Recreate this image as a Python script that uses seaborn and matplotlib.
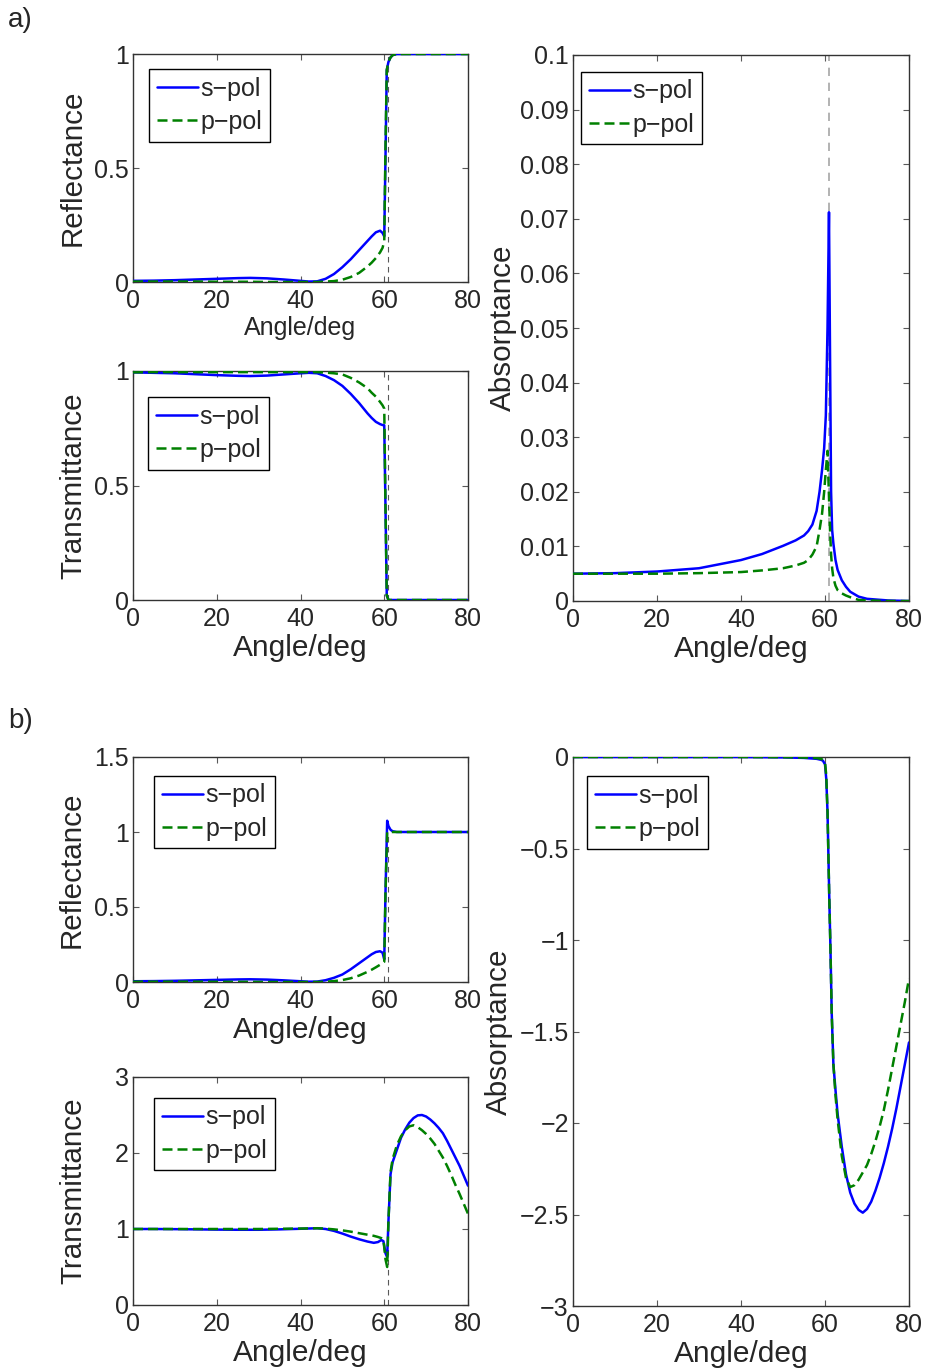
import matplotlib
matplotlib.use("Agg")
from matplotlib import pyplot as plt
from matplotlib.ticker import FuncFormatter
import seaborn as sns

# ---- panel a) ----
ang_a = [0, 5, 10, 15, 20, 25, 28, 32, 36, 40, 42, 44, 46, 48, 50, 52, 54, 56, 57, 58,
         59, 59.6, 60.0, 60.3, 60.6, 61.0, 61.5, 62, 63, 65, 70, 75, 80]
refl_a_s = [0.005, 0.006, 0.008, 0.011, 0.014, 0.017, 0.018, 0.016, 0.011, 0.005, 0.002, 0.003,
            0.014, 0.035, 0.065, 0.1, 0.14, 0.18, 0.2, 0.218, 0.225, 0.215, 0.2, 0.55, 0.93,
            0.965, 0.985, 0.995, 1.0, 1.0, 1.0, 1.0, 1.0]
refl_a_p = [0.002, 0.002, 0.002, 0.002, 0.001, 0.001, 0.001, 0.0, 0.0, 0.0, 0.0, 0.0,
            0.002, 0.004, 0.01, 0.022, 0.04, 0.068, 0.085, 0.105, 0.13, 0.15, 0.18, 0.6, 0.93,
            0.965, 0.985, 0.995, 1.0, 1.0, 1.0, 1.0, 1.0]
trans_a_s = [0.994, 0.992, 0.99, 0.986, 0.982, 0.979, 0.978, 0.98, 0.985, 0.99, 0.992, 0.99,
             0.978, 0.96, 0.935, 0.9, 0.86, 0.815, 0.795, 0.778, 0.768, 0.764, 0.763, 0.4, 0.02,
             0.0, 0.0, 0.0, 0.0, 0.0, 0.0, 0.0, 0.0]
trans_a_p = [0.994, 0.995, 0.995, 0.995, 0.995, 0.995, 0.995, 0.995, 0.995, 0.995, 0.995, 0.995,
             0.993, 0.99, 0.985, 0.97, 0.95, 0.925, 0.905, 0.888, 0.865, 0.85, 0.836, 0.4, 0.02,
             0.0, 0.0, 0.0, 0.0, 0.0, 0.0, 0.0, 0.0]

ang_a_abs = [0, 10, 20, 30, 40, 45, 50, 53, 55, 56, 57, 58, 58.7, 59.3, 59.8, 60.2, 60.6, 60.95,
             61.2, 61.45, 61.7, 62.0, 62.5, 63, 64, 65, 66, 68, 70, 75, 80]
abs_a_s = [0.0050, 0.0051, 0.0054, 0.0060, 0.0075, 0.0086, 0.0101, 0.0111, 0.0120, 0.0128,
           0.0140, 0.0165, 0.020, 0.024, 0.028, 0.034, 0.050, 0.0712, 0.045, 0.020, 0.013,
           0.0105, 0.0075, 0.0057, 0.0038, 0.0026, 0.0017, 0.0008, 0.0004, 0.0001, 0.0]
abs_a_p = [0.0050, 0.0050, 0.0050, 0.0051, 0.0053, 0.0056, 0.0060, 0.0065, 0.0070, 0.0075,
           0.0085, 0.0100, 0.013, 0.016, 0.020, 0.024, 0.0275, 0.019, 0.013, 0.0085, 0.006,
           0.0042, 0.0028, 0.0020, 0.0014, 0.0010, 0.0007, 0.0002, 0.0001, 0.0, 0.0]

# ---- panel b) ----
ang_b = [0, 5, 10, 15, 20, 25, 28, 32, 36, 40, 42, 44, 46, 48, 50, 52, 54, 56, 57, 58,
         59, 59.6, 60.0, 60.3, 60.7, 61.0, 61.5, 62, 63, 65, 70, 75, 80]
refl_b_s = [0.005, 0.006, 0.008, 0.011, 0.014, 0.017, 0.018, 0.016, 0.011, 0.005, 0.002, 0.003,
            0.012, 0.028, 0.05, 0.085, 0.125, 0.165, 0.185, 0.2, 0.205, 0.195, 0.15, 0.6, 1.075,
            1.04, 1.015, 1.005, 1.0, 1.0, 1.0, 1.0, 1.0]
refl_b_p = [0.002, 0.002, 0.002, 0.002, 0.001, 0.001, 0.001, 0.0, 0.0, 0.0, 0.0, 0.0,
            0.002, 0.006, 0.013, 0.025, 0.043, 0.068, 0.082, 0.098, 0.115, 0.126, 0.135, 0.6, 1.0,
            1.0, 1.0, 1.0, 1.0, 1.0, 1.0, 1.0, 1.0]

ang_b_trans = [0, 5, 10, 15, 20, 25, 30, 35, 40, 44, 46, 48, 50, 52, 54, 56, 57.5, 58.5, 59.3,
               59.8, 60.3, 60.7, 61.0, 61.5, 62, 63, 64, 65, 66, 67, 68, 69, 70, 71, 72, 73,
               74, 75, 76, 77, 78, 79, 80]
trans_b_s = [1.0, 1.0, 0.998, 0.995, 0.992, 0.99, 0.99, 0.995, 1.003, 1.01, 1.0, 0.975, 0.94,
             0.9, 0.865, 0.835, 0.818, 0.828, 0.855, 0.84, 0.68, 0.63, 1.1, 1.72, 1.88,
             2.04, 2.2, 2.31, 2.4, 2.46, 2.495, 2.5, 2.48, 2.44, 2.39, 2.33, 2.26, 2.16, 2.05,
             1.94, 1.83, 1.70, 1.57]
trans_b_p = [1.0, 1.0, 1.0, 1.0, 1.0, 1.0, 1.0, 1.003, 1.006, 1.01, 1.005, 0.995, 0.982, 0.965,
             0.945, 0.925, 0.91, 0.895, 0.88, 0.86, 0.6, 0.5, 1.1, 1.75, 1.92,
             2.1, 2.22, 2.3, 2.35, 2.365, 2.34, 2.30, 2.25, 2.19, 2.12, 2.03, 1.94, 1.83, 1.71,
             1.58, 1.46, 1.33, 1.2]

ang_b_abs = [0, 10, 20, 30, 40, 50, 55, 58, 59, 59.5, 60, 60.3, 60.6, 61.0, 61.3, 61.6, 62,
             62.5, 63, 64, 65, 66, 67, 68, 69, 70, 71, 72, 73, 74, 75, 76, 77, 78, 79, 80]
abs_b_s = [0, 0, 0, 0, 0, -0.002, -0.005, -0.01, -0.015, -0.02, -0.04, -0.12, -0.3, -0.75,
           -1.05, -1.4, -1.68, -1.82, -1.95, -2.13, -2.28, -2.38, -2.44, -2.475, -2.49, -2.47,
           -2.43, -2.37, -2.30, -2.22, -2.13, -2.03, -1.92, -1.80, -1.68, -1.56]
abs_b_p = [0, 0, 0, 0, 0, -0.001, -0.003, -0.006, -0.01, -0.015, -0.03, -0.1, -0.3, -0.75,
           -1.05, -1.4, -1.68, -1.85, -1.98, -2.18, -2.3, -2.35, -2.34, -2.31, -2.27, -2.23,
           -2.17, -2.10, -2.02, -1.93, -1.82, -1.70, -1.58, -1.46, -1.34, -1.21]

critical_angle = 60.9
xticks = [0, 20, 40, 60, 80]

sns.set_style("ticks")
plt.rcParams['font.family'] = ['Liberation Sans', 'DejaVu Sans']
plt.rcParams['axes.unicode_minus'] = True

W, H = 928, 1372
fig = plt.figure(figsize=(W / 100, H / 100), dpi=100)


def add_axes(l, t, r, b):
    return fig.add_axes([l / W, 1 - b / H, (r - l) / W, (b - t) / H])


fmt = FuncFormatter(lambda v, pos: ('%g' % v).replace('-', '\u2212'))


def draw(ax, x, s, p, ylim, yticks, ylabel, leg_xy, ylabel_x, xlabel_size=21.5,
         vline_color='0.35', vline_lw=0.8):
    if vline_color is not None:
        ax.vlines(critical_angle, 0, 1, colors=vline_color, linestyles=(0, (5, 4)),
                  linewidth=vline_lw, zorder=1)
    sns.lineplot(x=x, y=s, ax=ax, color='#0000ff', linewidth=1.8, label='s\u2212pol',
                 estimator=None, sort=False, zorder=3)
    sns.lineplot(x=x, y=p, ax=ax, color='#008000', linewidth=1.8, linestyle=(0, (4, 2)),
                 label='p\u2212pol', estimator=None, sort=False, zorder=3)
    ax.set_xlim(0, 80)
    ax.set_ylim(*ylim)
    ax.set_xticks(xticks)
    ax.set_yticks(yticks)
    ax.xaxis.set_major_formatter(fmt)
    ax.yaxis.set_major_formatter(fmt)
    ax.tick_params(direction='in', length=4, width=0.8, color='0.35', top=True, right=True,
                   labelsize=18)
    ax.tick_params(axis='x', pad=5)
    ax.tick_params(axis='y', pad=3)
    for sp in ax.spines.values():
        sp.set_color('0.2')
        sp.set_linewidth(1.0)
    ax.set_xlabel('Angle/deg', fontsize=xlabel_size, labelpad=2)
    ax.set_ylabel(ylabel, fontsize=21.3)
    ax.yaxis.set_label_coords(ylabel_x, 0.5)
    leg = ax.legend(loc='upper left', bbox_to_anchor=leg_xy, borderaxespad=0, frameon=True,
                    fancybox=False, edgecolor='black', framealpha=1, fontsize=18,
                    handlelength=1.65, handletextpad=0.1, borderpad=0.3, labelspacing=0.38)
    leg.get_frame().set_linewidth(1.0)


ax = add_axes(133, 54, 468, 282)
draw(ax, ang_a, refl_a_s, refl_a_p, (0, 1), [0, 0.5, 1], 'Reflectance', (0.048, 0.934),
     -0.137, xlabel_size=18)
ax = add_axes(133, 371, 468, 600)
draw(ax, ang_a, trans_a_s, trans_a_p, (0, 1), [0, 0.5, 1], 'Transmittance', (0.045, 0.886),
     -0.137)
ax = add_axes(573, 55, 909, 601)
draw(ax, ang_a_abs, abs_a_s, abs_a_p, (0, 0.1), [i / 100 for i in range(11)], 'Absorptance',
     (0.024, 0.969), -0.168, vline_color='0.65', vline_lw=1.2)

ax = add_axes(133, 757, 468, 982)
draw(ax, ang_b, refl_b_s, refl_b_p, (0, 1.5), [0, 0.5, 1, 1.5], 'Reflectance', (0.063, 0.916),
     -0.14)
ax = add_axes(133, 1077, 468, 1305)
draw(ax, ang_b_trans, trans_b_s, trans_b_p, (0, 3), [0, 1, 2, 3], 'Transmittance',
     (0.063, 0.908), -0.137)
ax = add_axes(573, 757, 909, 1306)
draw(ax, ang_b_abs, abs_b_s, abs_b_p, (-3, 0), [-3, -2.5, -2, -1.5, -1, -0.5, 0], 'Absorptance',
     (0.042, 0.965), -0.178, vline_color=None)

fig.text(8 / W, 1 - 20 / H, 'a)', fontsize=20, va='center', ha='left')
fig.text(8 / W, 1 - 721 / H, 'b)', fontsize=20, va='center', ha='left')

fig.savefig('out.png', dpi=100)
